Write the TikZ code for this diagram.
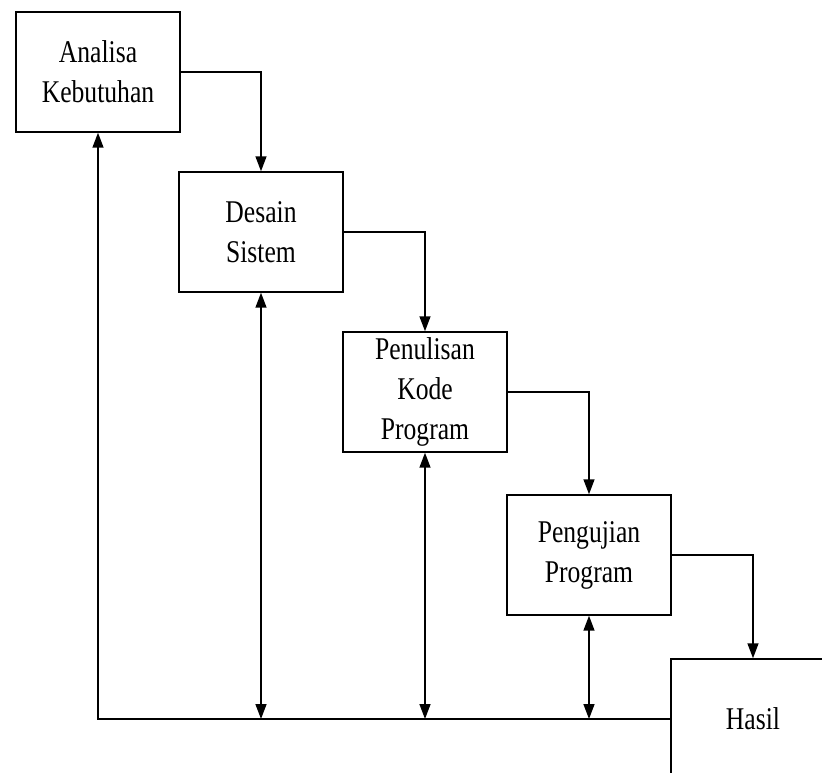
\documentclass[tikz,border=0pt]{standalone}
\usepackage{fontspec}
\setmainfont{Liberation Serif}[FakeStretch=0.81]
\usetikzlibrary{arrows.meta}

\begin{document}
\begin{tikzpicture}[x=0.02cm,y=-0.02cm,
	tahap/.style={draw,line width=0.03cm,minimum width=3.28cm,minimum height=2.4cm,align=center,inner sep=0pt,font=\fontsize{18}{22.8}\selectfont},
	alur/.style={line width=0.03cm,-{Triangle[length=0.3cm,width=0.22cm]}},
	balik/.style={line width=0.03cm,{Triangle[length=0.3cm,width=0.22cm]}-{Triangle[length=0.3cm,width=0.22cm]}}]
	\clip (0,0) rectangle (822,773);
	\node[tahap] (analisa) at (98,72) {Analisa\\Kebutuhan};
	\node[tahap] (desain) at (261,232) {Desain\\Sistem};
	\node[tahap] (tulis) at (425,392) {Penulisan\\Kode\\Program};
	\node[tahap] (uji) at (589,555) {Pengujian\\Program};
	\node[tahap] (hasil) at (753,719) {Hasil};
	%alur maju
	\draw[alur] (analisa.east) -| (desain.north);
	\draw[alur] (desain.east) -| (tulis.north);
	\draw[alur] (tulis.east) -| (uji.north);
	\draw[alur] (uji.east) -| (hasil.north);
	%alur balik
	\draw[alur] (hasil.west) -| (analisa.south);
	\draw[balik] (desain.south) -- (desain.south |- hasil.west);
	\draw[balik] (tulis.south) -- (tulis.south |- hasil.west);
	\draw[balik] (uji.south) -- (uji.south |- hasil.west);
\end{tikzpicture}
\end{document}
